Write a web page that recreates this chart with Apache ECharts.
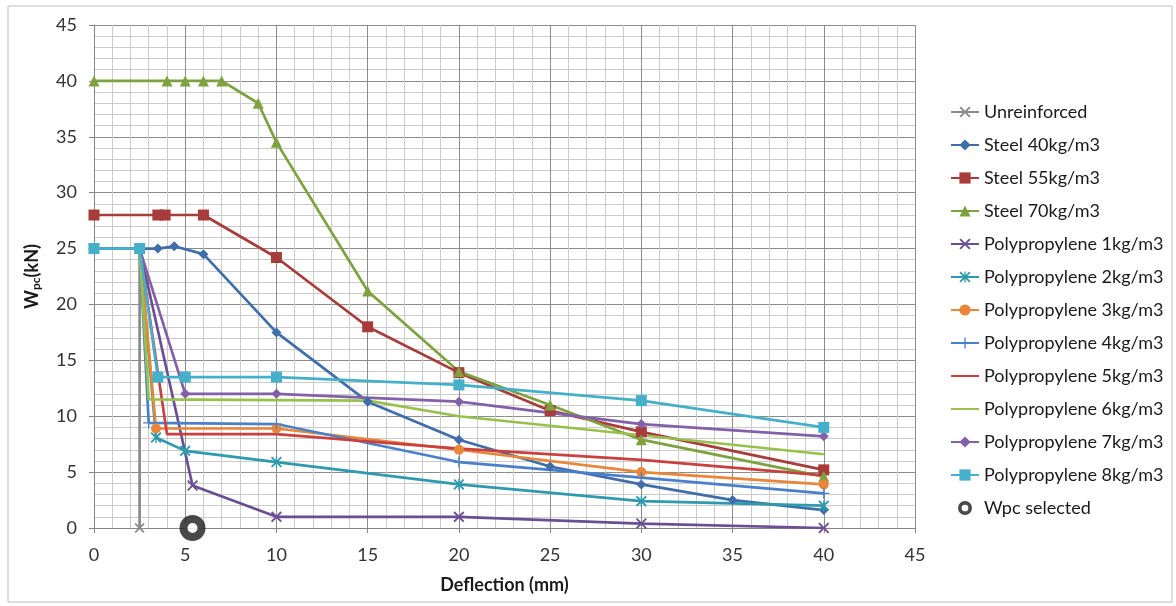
<!DOCTYPE html>
<html lang="en">
<head>
    <meta charset="UTF-8">
    <title>Wpc vs deflection</title>
    <script src="https://cdn.jsdelivr.net/npm/echarts@6/dist/echarts.min.js"></script>
    <style>
        html, body { margin: 0; padding: 0; background: #fff; }
        #main { width: 1176px; height: 606px; }
    </style>
</head>
<body>
<div id="main"></div>
<script>
    // data: [deflection mm, Wpc kN]
    var unreinforced = [[0, 25], [2.5, 25], [2.5, 0]]
    var steel40 = [[0, 25], [2.5, 25], [3.5, 25], [4.4, 25.2], [6, 24.5], [10, 17.5], [15, 11.3], [20, 7.9], [25, 5.5], [30, 3.9], [35, 2.5], [40, 1.6]]
    var steel55 = [[0, 28], [3.5, 28], [3.9, 28], [6, 28], [10, 24.2], [15, 18], [20, 13.9], [25, 10.5], [30, 8.6], [40, 5.2]]
    var steel70 = [[0, 40], [4, 40], [5, 40], [6, 40], [7, 40], [9, 38], [10, 34.5], [15, 21.2], [20, 14], [25, 11], [30, 7.9], [40, 4.6]]
    var pp1 = [[0, 25], [2.5, 25], [5.4, 3.8], [10, 1], [20, 1], [30, 0.4], [40, 0]]
    var pp2 = [[0, 25], [2.5, 25], [3.4, 8.1], [5, 6.9], [10, 5.9], [20, 3.9], [30, 2.4], [40, 2]]
    var pp3 = [[0, 25], [2.5, 25], [3.4, 8.9], [10, 8.9], [20, 7], [30, 5], [40, 3.9]]
    var pp4 = [[0, 25], [2.5, 25], [3, 9.4], [10, 9.3], [20, 5.9], [30, 4.5], [40, 3.1]]
    var pp5 = [[0, 25], [2.5, 25], [4, 8.4], [10, 8.4], [20, 7.1], [30, 6.1], [40, 4.7]]
    var pp6 = [[0, 25], [2.5, 25], [3, 11.5], [15, 11.4], [20, 10], [30, 8.3], [40, 6.6]]
    var pp7 = [[0, 25], [2.5, 25], [5, 12], [10, 12], [20, 11.3], [30, 9.3], [40, 8.2]]
    var pp8 = [[0, 25], [2.5, 25], [3.5, 13.5], [5, 13.5], [10, 13.5], [20, 12.8], [30, 11.4], [40, 9]]
    var wpcSelected = [[5.4, 0]]

    var FONT = 'Lato'
    var xSym = 'path://M0,1.2L1.2,0L5,3.8L8.8,0L10,1.2L6.2,5L10,8.8L8.8,10L5,6.2L1.2,10L0,8.8L3.8,5Z'
    var starSym = 'path://M0,1.2L1.2,0L5,3.8L8.8,0L10,1.2L6.2,5L10,8.8L8.8,10L5,6.2L1.2,10L0,8.8L3.8,5Z M4.4,0L5.6,0L5.6,10L4.4,10Z'
    var plusSym = 'path://M4.4,0L5.6,0L5.6,4.4L10,4.4L10,5.6L5.6,5.6L5.6,10L4.4,10L4.4,5.6L0,5.6L0,4.4L4.4,4.4Z'
    var ringSym = 'path://M5,0A5,5 0 1 1 4.999,0Z M5,2.6A2.4,2.4 0 1 0 5.001,2.6Z'

    function line(name, data, color, symbol, size) {
        var s = {
            name: name,
            type: 'line',
            data: data,
            symbol: symbol || 'circle',
            showSymbol: !!symbol,
            symbolSize: size || 9,
            lineStyle: { color: color, width: 2.7 },
            itemStyle: { color: color },
            emphasis: { disabled: true },
            animation: false
        }
        if (!symbol) {
            // plain line, no marker in legend either
            s.itemStyle.opacity = 0
        }
        return s
    }

    var mCharts = echarts.init(document.getElementById('main'))
    var option = {
        backgroundColor: '#fff',
        graphic: [{
            type: 'rect',
            shape: { x: 8, y: 6, width: 1164, height: 596 },
            style: { fill: 'none', stroke: '#bcbcbc', lineWidth: 1 },
            silent: true
        }],
        grid: { left: 94, top: 25, width: 821, height: 503 },
        legend: {
            orient: 'vertical',
            left: 945,
            top: 98,
            itemWidth: 28,
            itemHeight: 14,
            itemGap: 15,
            textStyle: { fontFamily: FONT, fontSize: 18, color: '#1a1a1a', lineHeight: 18 },
            data: ['Unreinforced', 'Steel 40kg/m3', 'Steel 55kg/m3', 'Steel 70kg/m3',
                'Polypropylene 1kg/m3', 'Polypropylene 2kg/m3', 'Polypropylene 3kg/m3', 'Polypropylene 4kg/m3',
                'Polypropylene 5kg/m3', 'Polypropylene 6kg/m3', 'Polypropylene 7kg/m3', 'Polypropylene 8kg/m3',
                { name: 'Wpc selected', icon: ringSym, itemStyle: { color: '#1c1c1c', borderWidth: 0 } }]
        },
        xAxis: {
            type: 'value',
            min: 0, max: 45, interval: 5,
            name: 'Deflection (mm)',
            nameLocation: 'middle',
            nameGap: 48,
            nameTextStyle: { fontFamily: FONT, fontSize: 18, fontWeight: 'bold', color: '#1a1a1a' },
            axisLine: { show: true, lineStyle: { color: '#868686', width: 1 } },
            axisTick: { show: true, length: 5, lineStyle: { color: '#868686' } },
            axisLabel: { fontFamily: FONT, fontSize: 18, color: '#333', margin: 18 },
            splitLine: { show: true, lineStyle: { color: '#8c8c8c', width: 1 } },
            minorTick: { show: false, splitNumber: 5 },
            minorSplitLine: { show: true, lineStyle: { color: '#cbcbcb', width: 1 } }
        },
        yAxis: {
            type: 'value',
            min: 0, max: 45, interval: 5,
            name: '{b|W}{s|pc}{b|(kN)}',
            nameLocation: 'middle',
            nameGap: 52,
            nameRotate: 90,
            nameTextStyle: {
                rich: {
                    b: { fontFamily: FONT, fontSize: 18, fontWeight: 'bold', color: '#1a1a1a' },
                    s: { fontFamily: FONT, fontSize: 12, fontWeight: 'bold', color: '#1a1a1a', verticalAlign: 'bottom', padding: [8, 0, 0, 0] }
                }
            },
            axisLine: { show: true, lineStyle: { color: '#868686', width: 1 } },
            axisTick: { show: true, length: 5, lineStyle: { color: '#868686' } },
            axisLabel: { fontFamily: FONT, fontSize: 18, color: '#333', margin: 17 },
            splitLine: { show: true, lineStyle: { color: '#8c8c8c', width: 1 } },
            minorTick: { show: false, splitNumber: 5 },
            minorSplitLine: { show: true, lineStyle: { color: '#cbcbcb', width: 1 } }
        },
        series: [
            line('Unreinforced', unreinforced, '#8a8a8a', xSym, 10),
            line('Steel 40kg/m3', steel40, '#3f6ea8', 'diamond', 10),
            line('Steel 55kg/m3', steel55, '#a83c3a', 'rect', 11),
            line('Steel 70kg/m3', steel70, '#7ea23f', 'triangle', 11),
            line('Polypropylene 1kg/m3', pp1, '#6a4e94', xSym, 11),
            line('Polypropylene 2kg/m3', pp2, '#2f9aae', starSym, 11),
            line('Polypropylene 3kg/m3', pp3, '#e8863a', 'circle', 10),
            line('Polypropylene 4kg/m3', pp4, '#4a80c9', plusSym, 11),
            line('Polypropylene 5kg/m3', pp5, '#c9413f', null),
            line('Polypropylene 6kg/m3', pp6, '#98c04c', null),
            line('Polypropylene 7kg/m3', pp7, '#8260aa', 'diamond', 10),
            line('Polypropylene 8kg/m3', pp8, '#46afca', 'rect', 11),
            {
                name: 'Wpc selected',
                type: 'scatter',
                data: wpcSelected,
                symbol: 'circle',
                symbolSize: 18,
                itemStyle: { color: '#fff', borderColor: '#1c1c1c', borderWidth: 8 },
                emphasis: { disabled: true },
                animation: false
            }
        ]
    }
    mCharts.setOption(option)

    window.onresize = function () {
        mCharts.resize()
    }
</script>
</body>
</html>
